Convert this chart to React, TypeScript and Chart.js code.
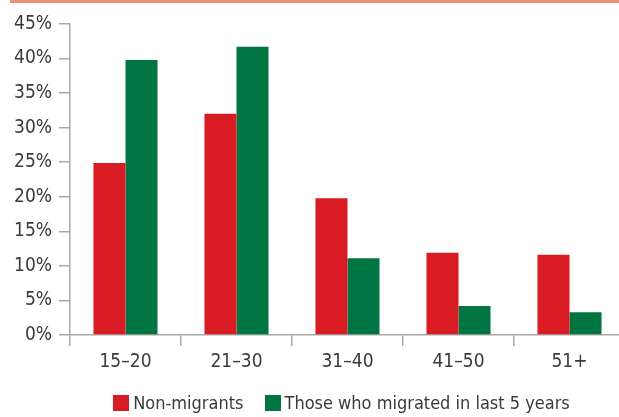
import React, { useEffect, useRef } from "react";
import { Chart, registerables } from "chart.js";

Chart.register(...registerables);

const categories = ["15–20", "21–30", "31–40", "41–50", "51+"];
const nonMigrants = [24.9, 32.0, 19.8, 11.9, 11.6];
const recentMigrants = [39.8, 41.7, 11.1, 4.2, 3.3];
const seriesLabels = ["Non-migrants", "Those who migrated in last 5 years"];
const seriesColors = ["#D91C24", "#007541"];
const yMax = 45;
const yStep = 5;

const FONT = '"DejaVu Sans Condensed", "Liberation Sans", sans-serif';
const FS = 19;
const TEXT = "#3a3a3a";
const AXIS = "#a8a8a8";

export default function App() {
  const ref = useRef<HTMLCanvasElement | null>(null);

  useEffect(() => {
    if (!ref.current) return;
    const chart = new Chart(ref.current, {
      type: "bar",
      data: {
        labels: categories,
        datasets: [
          { label: seriesLabels[0], data: nonMigrants, backgroundColor: seriesColors[0] },
          { label: seriesLabels[1], data: recentMigrants, backgroundColor: seriesColors[1] },
        ],
      },
      options: {
        animation: false,
        responsive: false,
        maintainAspectRatio: false,
        layout: { padding: { top: 24, left: 0, right: 0, bottom: 0 } },
        datasets: { bar: { barPercentage: 1, categoryPercentage: 0.577 } },
        plugins: { legend: { display: false }, tooltip: { enabled: false } },
        scales: {
          x: {
            grid: { display: true, offset: true, drawOnChartArea: false, drawTicks: true, tickLength: 11, color: AXIS, lineWidth: 1.5 },
            border: { display: true, color: AXIS, width: 1.5 },
            ticks: { font: { family: FONT, size: FS }, color: TEXT, padding: 5, maxRotation: 0 },
            afterFit: (s: any) => { s.height = 82; },
          },
          y: {
            min: 0,
            max: yMax,
            grid: { display: true, drawOnChartArea: false, drawTicks: true, tickLength: 11, color: AXIS, lineWidth: 1.5 },
            border: { display: true, color: AXIS, width: 1.5 },
            ticks: {
              stepSize: yStep,
              font: { family: FONT, size: FS },
              color: TEXT,
              padding: 7,
              callback: (v: any) => v + "%",
            },
            afterFit: (s: any) => { s.width = 70; },
          },
        },
      },
    });
    return () => chart.destroy();
  }, []);

  return (
    <div style={{ position: "fixed", left: 0, top: 0, width: 625, height: 417, background: "#fff", overflow: "hidden" }}>
      <canvas ref={ref} width={625} height={417} style={{ position: "absolute", left: 0, top: 0 }} />
      <div style={{ position: "absolute", left: 10, top: 0, width: 615, height: 3, background: "#EA9276" }} />
      <div
        style={{
          position: "absolute",
          left: 0,
          width: 683,
          top: 391,
          display: "flex",
          justifyContent: "center",
          fontFamily: FONT,
          fontSize: 18,
          color: TEXT,
          lineHeight: "24px",
        }}
      >
        {seriesLabels.map((lab, i) => (
          <div key={lab} style={{ display: "flex", alignItems: "center", marginLeft: i ? 21 : 0 }}>
            <span style={{ width: 16, height: 16, background: seriesColors[i], marginRight: 4, display: "inline-block" }} />
            <span>{lab}</span>
          </div>
        ))}
      </div>
    </div>
  );
}
